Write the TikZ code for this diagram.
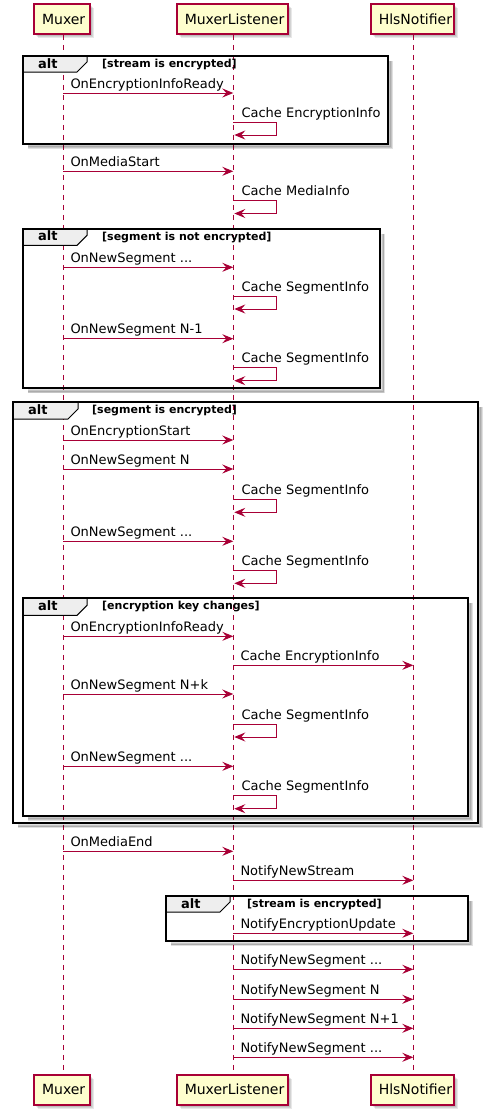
\documentclass[tikz,border=0pt]{standalone}
\usepackage{fontspec}
\setmainfont{DejaVu Sans}
\usetikzlibrary{arrows.meta}
\definecolor{plred}{HTML}{A80036}
\definecolor{plfill}{HTML}{FEFECE}
\definecolor{pltab}{HTML}{EEEEEE}
\tikzset{
  part/.style={draw=plred, line width=1.5pt, fill=plfill, minimum height=30pt,
    inner xsep=8pt, inner ysep=0pt, text height=10.2pt, text depth=0pt,
    align=left, font=\fontsize{14}{16}\selectfont, anchor=north west},
  lifeline/.style={draw=plred, line width=1pt, dash pattern=on 5pt off 5pt},
  msg/.style={draw=plred, line width=1pt, -{Stealth[length=11pt,width=9pt,inset=4pt]}},
  msglabel/.style={font=\fontsize{13}{15}\selectfont, inner sep=0pt, anchor=base west},
  frameline/.style={draw=black, line width=2pt},
  tabshape/.style={draw=black, line width=1pt, fill=pltab},
  altlabel/.style={font=\bfseries\fontsize{13}{15}\selectfont, inner sep=0pt, anchor=base west},
  condlabel/.style={font=\bfseries\fontsize{11}{13}\selectfont, inner sep=0pt, anchor=base west},
  fshadow/.style={draw=black, opacity=0.12, line width=#1},
}
% name x y width textwidth label
\newcommand\participant[6]{%
  \foreach \o in {2,3,4,5}{\fill[black,opacity=0.09] (#2+\o,#3+\o) rectangle (#2+#4+\o,#3+30+\o);}
  \node[part, text width=#5pt] (#1) at (#2,#3) {#6};}
% name from to y label
\newcommand\msgto[5]{%
  \draw[msg] (#2 |- 0,#4) -- (#3 |- 0,#4);
  \node[msglabel, xshift=7pt, yshift=5pt] (#1) at (#2 |- 0,#4) {#5};}
% name lifeline y label
\newcommand\selfmsg[4]{%
  \draw[msg] (#2 |- 0,#3) -- ++(43,0) -- ++(0,13) -- ([xshift=1pt]#2 |- 0,#3+13);
  \node[msglabel, xshift=8pt, yshift=5pt] (#1) at (#2 |- 0,#3) {#4};}
% name x0 y0 x1 y1 tabright tabbottom condx cond
\newcommand\altframe[9]{%
  \foreach \w in {1,2.5,4}{\draw[fshadow=\w pt] (#4+3,#3+5) -- (#4+3,#5+3) -- (#2+5,#5+3);}
  \draw[tabshape] (#2,#3) -- (#6,#3) -- (#6,#7-10) -- (#6-10,#7) -- (#2,#7) -- cycle;
  \draw[frameline] (#2,#3) rectangle (#4,#5);
  \node[altlabel] (#1a) at (#2+15,#3+12) {alt};
  \node[condlabel] (#1c) at (#8,#3+11.5) {[#9]};}

\begin{document}
\begin{tikzpicture}[x=1pt,y=-1pt]
\useasboundingbox (0,0) rectangle (487,1114);
\fill[white] (0,0) rectangle (487,1114);
\coordinate (M) at (63.3,0);
\coordinate (L) at (233.3,0);
\coordinate (H) at (413.3,0);
% participants
\participant{mt}{33.3}{3.3}{56}{40}{Muxer}
\participant{lt}{176}{3.3}{111}{95}{MuxerListener}
\participant{ht}{370}{3.3}{83}{67}{HlsNotifier}
\participant{mb}{33.3}{1074}{56}{40}{Muxer}
\participant{lb}{176}{1074}{111}{95}{MuxerListener}
\participant{hb}{370}{1074}{83}{67}{HlsNotifier}
% lifelines
\draw[lifeline] (mt.south -| M) -- (mb.north -| M);
\draw[lifeline] (lt.south -| L) -- (lb.north -| L);
\draw[lifeline] (ht.south -| H) -- (hb.north -| H);
% frames
\altframe{f1}{23}{56}{387.5}{143.7}{87}{72}{102}{stream is encrypted}
\altframe{f2}{23}{228.7}{380}{388.3}{87}{245.3}{102}{segment is not encrypted}
\altframe{f3}{13}{402}{477.7}{823}{78}{419}{92}{segment is encrypted}
\altframe{f4}{23}{598.3}{467.7}{815.7}{87}{615.3}{102}{encryption key changes}
\altframe{f5}{166}{896}{467.7}{941}{230}{912}{247}{stream is encrypted}
% messages
\msgto{m1}{M}{L}{93}{OnEncryptionInfoReady}
\selfmsg{m2}{L}{122}{Cache EncryptionInfo}
\msgto{m3}{M}{L}{171.3}{OnMediaStart}
\selfmsg{m4}{L}{200.5}{Cache MediaInfo}
\msgto{m5}{M}{L}{267.3}{OnNewSegment ...}
\selfmsg{m6}{L}{296}{Cache SegmentInfo}
\msgto{m7}{M}{L}{338.7}{OnNewSegment N-1}
\selfmsg{m8}{L}{367.7}{Cache SegmentInfo}
\msgto{m9}{M}{L}{440}{OnEncryptionStart}
\msgto{m10}{M}{L}{469}{OnNewSegment N}
\selfmsg{m11}{L}{499.3}{Cache SegmentInfo}
\msgto{m12}{M}{L}{541.3}{OnNewSegment ...}
\selfmsg{m13}{L}{570.3}{Cache SegmentInfo}
\msgto{m14}{M}{L}{636.3}{OnEncryptionInfoReady}
\msgto{m15}{L}{H}{665.3}{Cache EncryptionInfo}
\msgto{m16}{M}{L}{694}{OnNewSegment N+k}
\selfmsg{m17}{L}{724}{Cache SegmentInfo}
\msgto{m18}{M}{L}{766.3}{OnNewSegment ...}
\selfmsg{m19}{L}{795.7}{Cache SegmentInfo}
\msgto{m20}{M}{L}{851.3}{OnMediaEnd}
\msgto{m21}{L}{H}{880.3}{NotifyNewStream}
\msgto{m22}{L}{H}{933.3}{NotifyEncryptionUpdate}
\msgto{m23}{L}{H}{969.3}{NotifyNewSegment ...}
\msgto{m24}{L}{H}{999.3}{NotifyNewSegment N}
\msgto{m25}{L}{H}{1028.3}{NotifyNewSegment N+1}
\msgto{m26}{L}{H}{1057.3}{NotifyNewSegment ...}
\end{tikzpicture}
\end{document}
